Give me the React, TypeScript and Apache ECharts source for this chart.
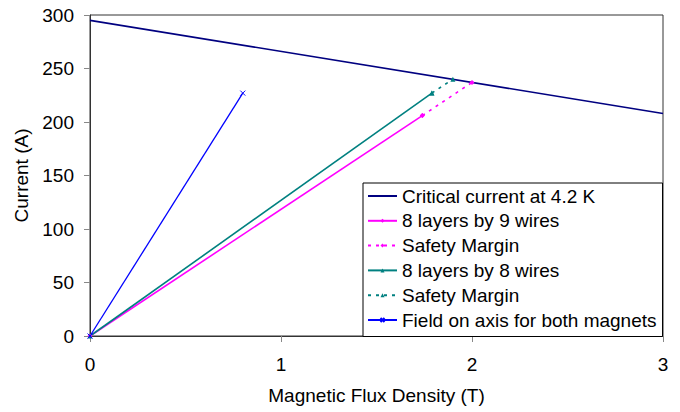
import React, { useEffect, useRef } from "react";
import * as echarts from "echarts";

const criticalB = [0, 3];
const criticalI = [295, 208];
const nine9B = [0, 1.74];
const nine9I = [0, 206];
const margin9B = [1.74, 2.0];
const margin9I = [206, 237];
const eight8B = [0, 1.79];
const eight8I = [0, 227];
const margin8B = [1.79, 1.9];
const margin8I = [227, 240];
const axisFieldB = [0, 0.8];
const axisFieldI = [0, 227];

const xTicks = [0, 1, 2, 3];
const yTicks = [0, 50, 100, 150, 200, 250, 300];

const pairs = (xs: number[], ys: number[]) => xs.map((x, i) => [x, ys[i]]);

const X_PATH = "path://M0,0 L10,10 M10,0 L0,10";

export default function App() {
  const ref = useRef<HTMLDivElement>(null);
  useEffect(() => {
    const chart = echarts.init(ref.current!, null, { renderer: "svg" });
    const font = "Liberation Sans, Arial, sans-serif";
    const labelMap: Record<string, string> = {
      "Safety Margin 9": "Safety Margin",
      "Safety Margin 8": "Safety Margin",
    };
    chart.setOption({
      animation: false,
      textStyle: { fontFamily: font },
      grid: {
        left: 90,
        right: 17,
        top: 15,
        bottom: 76,
        show: true,
        borderColor: "#333",
        borderWidth: 1,
        backgroundColor: "transparent",
      },
      xAxis: {
        type: "value",
        min: xTicks[0],
        max: xTicks[xTicks.length - 1],
        interval: 1,
        name: "Magnetic Flux Density (T)",
        nameLocation: "middle",
        nameGap: 50,
        nameTextStyle: { fontSize: 19, color: "#000", fontFamily: font },
        axisLine: { show: true, onZero: false, lineStyle: { color: "#333", width: 1 } },
        axisTick: { show: true, inside: false, length: 6, lineStyle: { color: "#888" } },
        axisLabel: { fontSize: 19, color: "#000", margin: 19, fontFamily: font },
        splitLine: { show: false },
      },
      yAxis: {
        type: "value",
        min: yTicks[0],
        max: yTicks[yTicks.length - 1],
        interval: 50,
        name: "Current (A)",
        nameLocation: "middle",
        nameGap: 56,
        nameRotate: 90,
        nameTextStyle: { fontSize: 19, color: "#000", fontFamily: font },
        axisLine: { show: true, onZero: false, lineStyle: { color: "#333", width: 1 } },
        axisTick: { show: true, inside: false, length: 6, lineStyle: { color: "#888" } },
        axisLabel: { fontSize: 19, color: "#000", margin: 16, fontFamily: font },
        splitLine: { show: false },
      },
      legend: {
        orient: "vertical",
        left: 363,
        top: 183,
        padding: [3.5, 6, 7, 4],
        itemWidth: 29,
        itemHeight: 5,
        itemGap: 5.8,
        backgroundColor: "#fff",
        borderColor: "#000",
        borderWidth: 1,
        borderRadius: 0,
        textStyle: { fontSize: 19, color: "#000", fontFamily: font },
        formatter: (n: string) => labelMap[n] || n,
        data: [
          {
            name: "Critical current at 4.2 K",
            itemStyle: { color: "transparent", borderColor: "transparent", opacity: 0 },
          },
          "8 layers by 9 wires",
          "Safety Margin 9",
          "8 layers by 8 wires",
          "Safety Margin 8",
          "Field on axis for both magnets",
        ],
      },
      series: [
        {
          name: "Critical current at 4.2 K",
          type: "line",
          data: pairs(criticalB, criticalI),
          showSymbol: false,
          symbol: "none",
          lineStyle: { color: "#000080", width: 1.6 },
          itemStyle: { color: "#000080" },
          z: 3,
        },
        {
          name: "8 layers by 9 wires",
          type: "line",
          data: pairs(nine9B, nine9I),
          symbol: "diamond",
          symbolSize: 5,
          lineStyle: { color: "#ff00ff", width: 1.6 },
          itemStyle: { color: "#ff00ff" },
        },
        {
          name: "Safety Margin 9",
          type: "line",
          data: pairs(margin9B, margin9I),
          symbol: "diamond",
          symbolSize: 5,
          lineStyle: { color: "#ff00ff", width: 1.6, type: [3, 5] },
          itemStyle: { color: "#ff00ff" },
        },
        {
          name: "8 layers by 8 wires",
          type: "line",
          data: pairs(eight8B, eight8I),
          symbol: "triangle",
          symbolSize: 5,
          lineStyle: { color: "#008080", width: 1.6 },
          itemStyle: { color: "#008080" },
        },
        {
          name: "Safety Margin 8",
          type: "line",
          data: pairs(margin8B, margin8I),
          symbol: "triangle",
          symbolSize: 5,
          lineStyle: { color: "#008080", width: 1.6, type: [3, 5] },
          itemStyle: { color: "#008080" },
        },
        {
          name: "Field on axis for both magnets",
          type: "line",
          data: pairs(axisFieldB, axisFieldI),
          symbol: X_PATH,
          symbolSize: 5,
          lineStyle: { color: "#0000ff", width: 1.3 },
          itemStyle: { color: "none", borderColor: "#0000ff", borderWidth: 1 },
        },
      ],
    });
    return () => chart.dispose();
  }, []);
  return <div ref={ref} style={{ width: 680, height: 412, position: "absolute", left: 0, top: 0 }} />;
}
